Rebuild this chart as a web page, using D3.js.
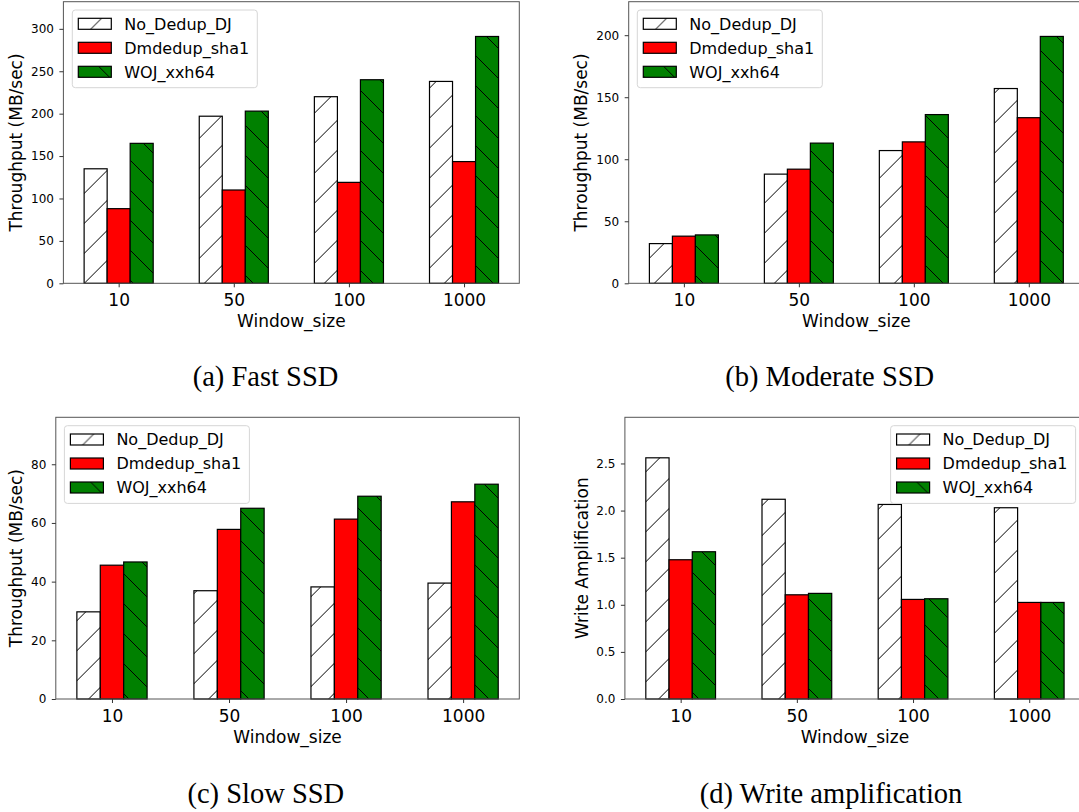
<!DOCTYPE html>
<html>
<head>
<meta charset="utf-8">
<script src="https://cdn.jsdelivr.net/npm/d3@7"></script>
<style>
  html, body { margin: 0; padding: 0; background: #fff; }
  svg { display: block; }
</style>
</head>
<body>
<svg id="fig" width="1079" height="812"></svg>
<script>
// Window sizes on the x axis
const categories = ["10", "50", "100", "1000"];
const seriesNames = ["No_Dedup_DJ", "Dmdedup_sha1", "WOJ_xxh64"];

// (a) Fast SSD throughput, MB/sec
const fastNoDedup = [135, 197, 220, 238];
const fastDmdedup = [88, 110, 119, 143.5];
const fastWOJ = [165, 203, 240, 291];

// (b) Moderate SSD throughput, MB/sec
const moderateNoDedup = [32, 88, 107, 157];
const moderateDmdedup = [38, 92, 114, 133.5];
const moderateWOJ = [39, 113, 136, 199];

// (c) Slow SSD throughput, MB/sec
const slowNoDedup = [29.7, 36.9, 38.2, 39.5];
const slowDmdedup = [45.6, 57.8, 61.3, 67.2];
const slowWOJ = [46.7, 65, 69.1, 73.2];

// (d) Write amplification
const waNoDedup = [2.56, 2.12, 2.065, 2.03];
const waDmdedup = [1.478, 1.106, 1.057, 1.025];
const waWOJ = [1.563, 1.121, 1.064, 1.025];

// y tick labels per panel
const fastTicks = [0, 50, 100, 150, 200, 250, 300];
const moderateTicks = [0, 50, 100, 150, 200];
const slowTicks = [0, 20, 40, 60, 80];
const waTicks = [0, 0.5, 1.0, 1.5, 2.0, 2.5];

const panels = [
  { series: [fastNoDedup, fastDmdedup, fastWOJ], ticks: fastTicks, fmt: d3.format("d"), ymax: 332,
    ylabel: "Throughput (MB/sec)", caption: "(a) Fast SSD",
    box: { l: 63.4, r: 519.3, t: 1.7, b: 283.3 }, ylabelX: 21.5, legend: { x: 72.3, y: 10 },
    capX: 265.5, capY: 386 },
  { series: [moderateNoDedup, moderateDmdedup, moderateWOJ], ticks: moderateTicks, fmt: d3.format("d"), ymax: 227,
    ylabel: "Throughput (MB/sec)", caption: "(b) Moderate SSD",
    box: { l: 628.7, r: 1084, t: 1.7, b: 283.3 }, ylabelX: 586.8, legend: { x: 637.3, y: 10 },
    capX: 829.7, capY: 386 },
  { series: [slowNoDedup, slowDmdedup, slowWOJ], ticks: slowTicks, fmt: d3.format("d"), ymax: 96,
    ylabel: "Throughput (MB/sec)", caption: "(c) Slow SSD",
    box: { l: 55.8, r: 519.3, t: 417.3, b: 699 }, ylabelX: 21.5, legend: { x: 64.4, y: 425.7 },
    capX: 265.8, capY: 802.7 },
  { series: [waNoDedup, waDmdedup, waWOJ], ticks: waTicks, fmt: d3.format(".1f"), ymax: 2.99,
    ylabel: "Write Amplification", caption: "(d) Write amplification",
    box: { l: 624.9, r: 1085, t: 417.3, b: 699 }, ylabelX: 587.6, legend: { x: 890.6, y: 425.7 },
    capX: 831, capY: 803 }
];

const svg = d3.select("#fig");
svg.append("rect").attr("width", 1079).attr("height", 812).attr("fill", "#fff");

// Hatch patterns, anchored to the whole figure
const defs = svg.append("defs");
const P = 30;
const slash = defs.append("pattern").attr("id", "hatchSlash")
  .attr("patternUnits", "userSpaceOnUse").attr("width", P).attr("height", P);
slash.append("rect").attr("width", P).attr("height", P).attr("fill", "#ffffff");
slash.append("path").attr("d", "M-1,8.6 L8.6,-1 M6.6,31 L31,6.6")
  .attr("stroke", "#000").attr("stroke-width", 1);

const back = defs.append("pattern").attr("id", "hatchBack")
  .attr("patternUnits", "userSpaceOnUse").attr("width", P).attr("height", P);
back.append("rect").attr("width", P).attr("height", P).attr("fill", "#008000");
back.append("path").attr("d", "M-1,-1 L31,31 M-1,29 L1,31 M29,-1 L31,1")
  .attr("stroke", "#000").attr("stroke-width", 1);

const fills = ["url(#hatchSlash)", "#ff0000", "url(#hatchBack)"];
const offsets = [-0.2, 0, 0.2];
const barW = 0.2;
const font = "'DejaVu Sans', sans-serif";

panels.forEach(p => {
  const b = p.box;
  const x = d3.scaleLinear().domain([-0.48, 3.48]).range([b.l, b.r]);
  const y = d3.scaleLinear().domain([0, p.ymax]).range([b.b, b.t]);
  const g = svg.append("g");

  // bars: three series side by side around each category
  p.series.forEach((vals, s) => {
    g.selectAll(null).data(vals).enter().append("rect")
      .attr("x", (d, i) => x(i + offsets[s] - barW / 2))
      .attr("width", x(barW) - x(0))
      .attr("y", d => y(d))
      .attr("height", d => y(0) - y(d))
      .attr("fill", fills[s])
      .attr("stroke", "#000")
      .attr("stroke-width", 1.2);
  });

  // frame around the plot area
  g.append("rect")
    .attr("x", b.l).attr("y", b.t).attr("width", b.r - b.l).attr("height", b.b - b.t)
    .attr("fill", "none").attr("stroke", "#555").attr("stroke-width", 1);

  // y axis
  const ya = g.append("g").attr("transform", `translate(${b.l},0)`)
    .call(d3.axisLeft(y).tickValues(p.ticks).tickFormat(p.fmt).tickSize(4).tickPadding(5.5));
  ya.select(".domain").remove();
  ya.selectAll("line").attr("stroke", "#333");
  ya.selectAll("text").attr("font-family", font).attr("font-size", 12).attr("fill", "#000");

  // x axis
  const xa = g.append("g").attr("transform", `translate(0,${b.b})`)
    .call(d3.axisBottom(x).tickValues([0, 1, 2, 3]).tickFormat(i => categories[i]).tickSize(4).tickPadding(6.6));
  xa.select(".domain").remove();
  xa.selectAll("line").attr("stroke", "#333");
  xa.selectAll("text").attr("font-family", font).attr("font-size", 17).attr("fill", "#000");

  // axis titles
  g.append("text")
    .attr("x", x(1.5))
    .attr("y", b.b + 44)
    .attr("text-anchor", "middle")
    .attr("font-family", font).attr("font-size", 17)
    .text("Window_size");
  g.append("text")
    .attr("transform", `translate(${p.ylabelX},${(b.t + b.b) / 2}) rotate(-90)`)
    .attr("text-anchor", "middle")
    .attr("font-family", font).attr("font-size", 17)
    .text(p.ylabel);

  // legend
  const lg = g.append("g").attr("transform", `translate(${p.legend.x},${p.legend.y})`);
  lg.append("rect").attr("width", 185).attr("height", 77.7).attr("rx", 3)
    .attr("fill", "#fff").attr("fill-opacity", 0.8)
    .attr("stroke", "#d6d6d6").attr("stroke-width", 1);
  seriesNames.forEach((name, s) => {
    lg.append("rect").attr("x", 6).attr("y", 8.3 + s * 24).attr("width", 33).attr("height", 11)
      .attr("fill", fills[s]).attr("stroke", "#000").attr("stroke-width", 1.2);
    lg.append("text").attr("x", 52).attr("y", 19.6 + s * 24)
      .attr("font-family", font).attr("font-size", 16).text(name);
  });

  // caption under the panel
  svg.append("text")
    .attr("x", p.capX).attr("y", p.capY)
    .attr("text-anchor", "middle")
    .attr("font-family", "'Liberation Serif', 'Times New Roman', serif")
    .attr("font-size", 28.5)
    .text(p.caption);
});
</script>
</body>
</html>
